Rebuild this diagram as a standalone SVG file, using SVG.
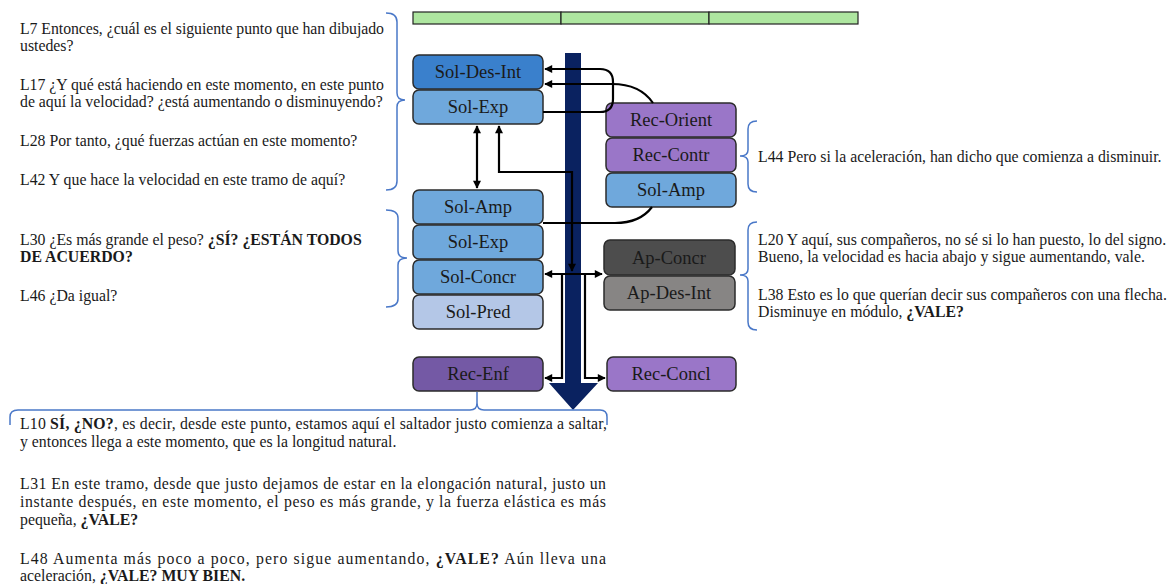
<svg xmlns="http://www.w3.org/2000/svg" width="1168" height="584" viewBox="0 0 1168 584">
  <defs>
    <marker id="ah" viewBox="0 0 10 10" refX="9" refY="5" markerWidth="9" markerHeight="8" orient="auto-start-reverse" markerUnits="userSpaceOnUse">
      <path d="M0,0 L10,5 L0,10 Z" fill="#000"/>
    </marker>
    <style>
      .node { stroke: #2b2b2b; stroke-width: 1.5; }
      .lbl { font-family: "Liberation Serif", "Times New Roman", serif; font-size: 18.5px; fill: #1a1a1a; text-anchor: middle; }
      .txt { font-family: "Liberation Serif", "Times New Roman", serif; font-size: 15.8px; fill: #1a1a1a; }
      .b { font-weight: bold; }
      .brace { fill: none; stroke: #4a78c8; stroke-width: 1.5; }
      .con { fill: none; stroke: #000; stroke-width: 2.2; }
      .blue1 { fill: #3a80cc; }
      .blue2 { fill: #6fa8dc; }
      .blue3 { fill: #b4c7e7; }
      .pur { fill: #9a76c8; }
      .pur2 { fill: #7459a5; }
      .grey1 { fill: #4d4d4d; }
      .grey2 { fill: #878584; }
    </style>
  </defs>

  <rect width="1168" height="584" fill="#fff"/>

  <!-- timeline bar -->
  <g id="timeline">
    <rect x="413" y="12" width="148" height="12" fill="#aee6a0" stroke="#222" stroke-width="1.2"/>
    <rect x="561" y="12" width="148" height="12" fill="#aee6a0" stroke="#222" stroke-width="1.2"/>
    <rect x="709" y="12" width="149" height="12" fill="#aee6a0" stroke="#222" stroke-width="1.2"/>
  </g>

  <!-- time arrow -->
  <g id="time-arrow">
    <path d="M565,53 H581 V383 H598 L573,410 L549,383 H565 Z" fill="#0a2260"/>
  </g>

  <!-- nodes -->
  <g id="sol-des-int"><rect class="node blue1" x="413" y="55" width="130" height="34" rx="6"/><text class="lbl" x="478" y="78">Sol-Des-Int</text></g>
  <g id="sol-exp-1"><rect class="node blue2" x="413" y="90" width="130" height="34" rx="6"/><text class="lbl" x="478" y="113">Sol-Exp</text></g>
  <g id="rec-orient"><rect class="node pur" x="606" y="103" width="130" height="34" rx="6"/><text class="lbl" x="671" y="126">Rec-Orient</text></g>
  <g id="rec-contr"><rect class="node pur" x="606" y="138" width="130" height="34" rx="6"/><text class="lbl" x="671" y="161">Rec-Contr</text></g>
  <g id="sol-amp-2"><rect class="node blue2" x="606" y="173" width="130" height="34" rx="6"/><text class="lbl" x="671" y="196">Sol-Amp</text></g>
  <g id="sol-amp-1"><rect class="node blue2" x="413" y="190" width="130" height="34" rx="6"/><text class="lbl" x="478" y="213">Sol-Amp</text></g>
  <g id="sol-exp-2"><rect class="node blue2" x="413" y="225" width="130" height="34" rx="6"/><text class="lbl" x="478" y="248">Sol-Exp</text></g>
  <g id="sol-concr"><rect class="node blue2" x="413" y="260" width="130" height="34" rx="6"/><text class="lbl" x="478" y="283">Sol-Concr</text></g>
  <g id="sol-pred"><rect class="node blue3" x="413" y="295" width="130" height="34" rx="6"/><text class="lbl" x="478" y="318">Sol-Pred</text></g>
  <g id="ap-concr"><rect class="node grey1" x="604" y="240" width="131" height="35" rx="6"/><text class="lbl" x="669" y="264">Ap-Concr</text></g>
  <g id="ap-des-int"><rect class="node grey2" x="604" y="276" width="131" height="34" rx="6"/><text class="lbl" x="669" y="299">Ap-Des-Int</text></g>
  <g id="rec-enf"><rect class="node pur2" x="413" y="357" width="130" height="34" rx="6"/><text class="lbl" x="478" y="380">Rec-Enf</text></g>
  <g id="rec-concl"><rect class="node pur" x="607" y="357" width="129" height="34" rx="6"/><text class="lbl" x="671" y="380">Rec-Concl</text></g>

  <!-- connectors -->
  <g id="connectors">
    <path class="con" d="M543,112 H600 Q613,112 613,99 V82 Q613,69 600,69 H545" marker-end="url(#ah)"/>
    <path class="con" d="M653,103 Q640,84 612,84 H545" marker-end="url(#ah)"/>
    <path class="con" d="M477,126 V188" marker-start="url(#ah)" marker-end="url(#ah)"/>
    <path class="con" d="M499,126 V172 H572 V271" marker-start="url(#ah)" marker-end="url(#ah)"/>
    <path class="con" d="M652,207 Q640,223 615,223 H543"/>
    <path class="con" d="M545,274 H602" marker-start="url(#ah)" marker-end="url(#ah)"/>
    <path class="con" d="M562,274 V378 H545" marker-end="url(#ah)"/>
    <path class="con" d="M585,274 V378 H605" marker-end="url(#ah)"/>
  </g>

  <!-- braces -->
  <g id="braces">
    <path class="brace" d="M386,13 Q397,13 397,22 V93 Q397,100 405,100 Q397,100 397,107 V181 Q397,190 386,190"/>
    <path class="brace" d="M386,210 Q398,210 398,218 V251 Q398,258 407,258 Q398,258 398,265 V299 Q398,307 386,307"/>
    <path class="brace" d="M757,121 Q748,121 748,129 V150 Q748,156 740,156 Q748,156 748,162 V184 Q748,192 757,192"/>
    <path class="brace" d="M757,222 Q748,222 748,230 V269 Q748,275 740,275 Q748,275 748,281 V322 Q748,330 757,330"/>
    <path class="brace" d="M10,425 V417 Q10,410 18,410 H470 Q477,410 477,403 V392 M477,403 Q477,410 484,410 H600 Q607,410 607,417 V425"/>
  </g>

  <!-- transcript excerpts -->
  <g id="text-left-1" class="txt">
    <text x="20" y="34" textLength="364" lengthAdjust="spacing">L7 Entonces, ¿cuál es el siguiente punto que han dibujado</text>
    <text x="20" y="51">ustedes?</text>
    <text x="20" y="90" textLength="364" lengthAdjust="spacing">L17 ¿Y qué está haciendo en este momento, en este punto</text>
    <text x="20" y="107">de aquí la velocidad? ¿está aumentando o disminuyendo?</text>
    <text x="20" y="146">L28 Por tanto, ¿qué fuerzas actúan en este momento?</text>
    <text x="20" y="185">L42 Y que hace la velocidad en este tramo de aquí?</text>
  </g>
  <g id="text-left-2" class="txt">
    <text x="20" y="245">L30 ¿Es más grande el peso? <tspan class="b">¿SÍ? ¿ESTÁN TODOS</tspan></text>
    <text x="20" y="262" class="b">DE ACUERDO?</text>
    <text x="20" y="301">L46 ¿Da igual?</text>
  </g>
  <g id="text-right-1" class="txt">
    <text x="758" y="162">L44 Pero si la aceleración, han dicho que comienza a disminuir.</text>
  </g>
  <g id="text-right-2" class="txt">
    <text x="758" y="245">L20 Y aquí, sus compañeros, no sé si lo han puesto, lo del signo.</text>
    <text x="758" y="262">Bueno, la velocidad es hacia abajo y sigue aumentando, vale.</text>
    <text x="758" y="300">L38 Esto es lo que querían decir sus compañeros con una flecha.</text>
    <text x="758" y="317">Disminuye en módulo, <tspan class="b">¿VALE?</tspan></text>
  </g>
  <g id="text-bottom" class="txt">
    <text x="20" y="429" textLength="587" lengthAdjust="spacing">L10 <tspan class="b">SÍ, ¿NO?</tspan>, es decir, desde este punto, estamos aquí el saltador justo comienza a saltar,</text>
    <text x="20" y="447">y entonces llega a este momento, que es la longitud natural.</text>
    <text x="20" y="489" textLength="586" lengthAdjust="spacing">L31 En este tramo, desde que justo dejamos de estar en la elongación natural, justo un</text>
    <text x="20" y="507" textLength="586" lengthAdjust="spacing">instante después, en este momento, el peso es más grande, y la fuerza elástica es más</text>
    <text x="20" y="525">pequeña, <tspan class="b">¿VALE?</tspan></text>
    <text x="20" y="564" textLength="586" lengthAdjust="spacing">L48 Aumenta más poco a poco, pero sigue aumentando, <tspan class="b">¿VALE?</tspan> Aún lleva una</text>
    <text x="20" y="581">aceleración, <tspan class="b">¿VALE? MUY BIEN.</tspan></text>
  </g>
</svg>
